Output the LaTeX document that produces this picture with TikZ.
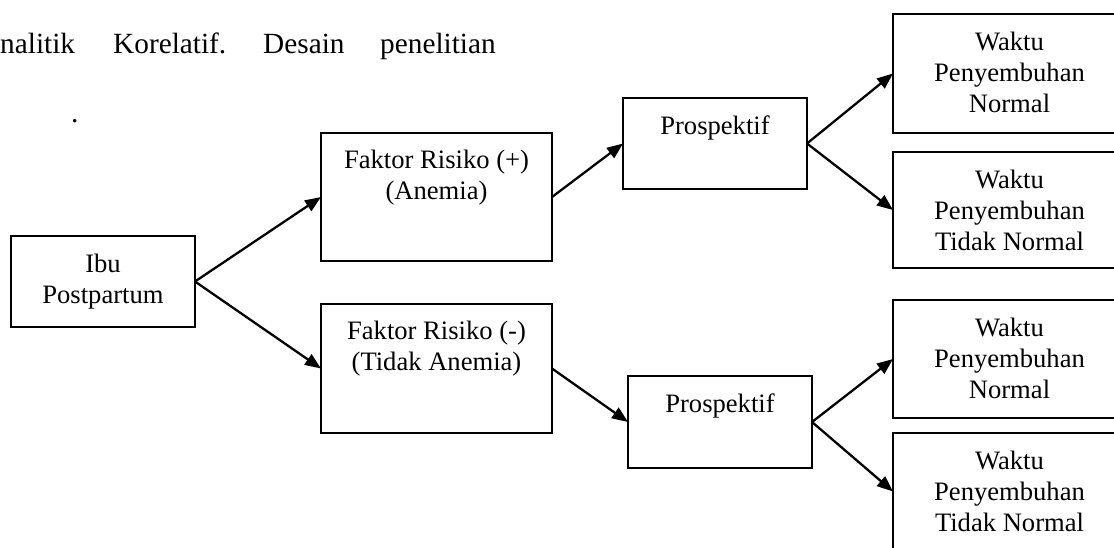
\documentclass[tikz,border=0pt]{standalone}
\usepackage{fontspec}
\setmainfont{Liberation Serif}
\usetikzlibrary{arrows.meta}
\begin{document}
\begin{tikzpicture}[x=1pt,y=-1pt,
  box/.style={draw=black, line width=1.8pt, rectangle, inner sep=0pt, outer sep=0pt},
  boxtext/.style={anchor=base, inner sep=0pt, align=center, font=\fontsize{26.6pt}{31pt}\selectfont},
  bodytext/.style={anchor=base west, inner sep=0pt, font=\fontsize{29.3pt}{34pt}\selectfont},
  conn/.style={line width=2.3pt, -{Triangle[length=16pt,width=12.5pt]}}]
\useasboundingbox (0,0) rectangle (1114,547);
% body text
\node[bodytext] (w1t) at (0,53) {nalitik};
\node[bodytext] (w2t) at (113,53) {Korelatif.};
\node[bodytext] (w3t) at (263,53) {Desain};
\node[bodytext] (w4t) at (380,53) {penelitian};
\node[bodytext] (dot) at (71,122) {.};
% boxes
\node[box, minimum width=184pt, minimum height=91pt] (ibu) at (103,281.5) {};
\node[box, minimum width=231pt, minimum height=128pt] (fp) at (436.5,197) {};
\node[box, minimum width=231pt, minimum height=129pt] (fm) at (436.5,368.5) {};
\node[box, minimum width=184pt, minimum height=91pt] (p1) at (715,143.5) {};
\node[box, minimum width=184pt, minimum height=92pt] (p2) at (720,422) {};
\node[box, minimum width=233pt, minimum height=119pt] (r1) at (1009.5,73.5) {};
\node[box, minimum width=233pt, minimum height=116pt] (r2) at (1009.5,210) {};
\node[box, minimum width=233pt, minimum height=118pt] (r3) at (1009.5,359) {};
\node[box, minimum width=233pt, minimum height=117pt] (r4) at (1009.5,491.5) {};
% texts (anchor base = baseline of the last line)
\node[boxtext] (ibut) at (103,303) {Ibu\\Postpartum};
\node[boxtext] (fpt) at (436.5,199) {Faktor Risiko (+)\\(Anemia)};
\node[boxtext] (fmt) at (436.5,370) {Faktor Risiko (-)\\(Tidak Anemia)};
\node[boxtext] (p1t) at (715,134) {Prospektif};
\node[boxtext] (p2t) at (720,412) {Prospektif};
\node[boxtext] (r1t) at (1009.5,112) {Waktu\\Penyembuhan\\Normal};
\node[boxtext] (r2t) at (1009.5,250) {Waktu\\Penyembuhan\\Tidak Normal};
\node[boxtext] (r3t) at (1009.5,398) {Waktu\\Penyembuhan\\Normal};
\node[boxtext] (r4t) at (1009.5,531) {Waktu\\Penyembuhan\\Tidak Normal};
% connectors
\draw[conn] (ibu.east) -- (fp.west);
\draw[conn] (ibu.east) -- (fm.west);
\draw[conn] (fp.east) -- (p1.west);
\draw[conn] (fm.east) -- (p2.west);
\draw[conn] (p1.east) -- (r1.west);
\draw[conn] (p1.east) -- (r2.west);
\draw[conn] (p2.east) -- (r3.west);
\draw[conn] (p2.east) -- (r4.west);
\end{tikzpicture}
\end{document}
